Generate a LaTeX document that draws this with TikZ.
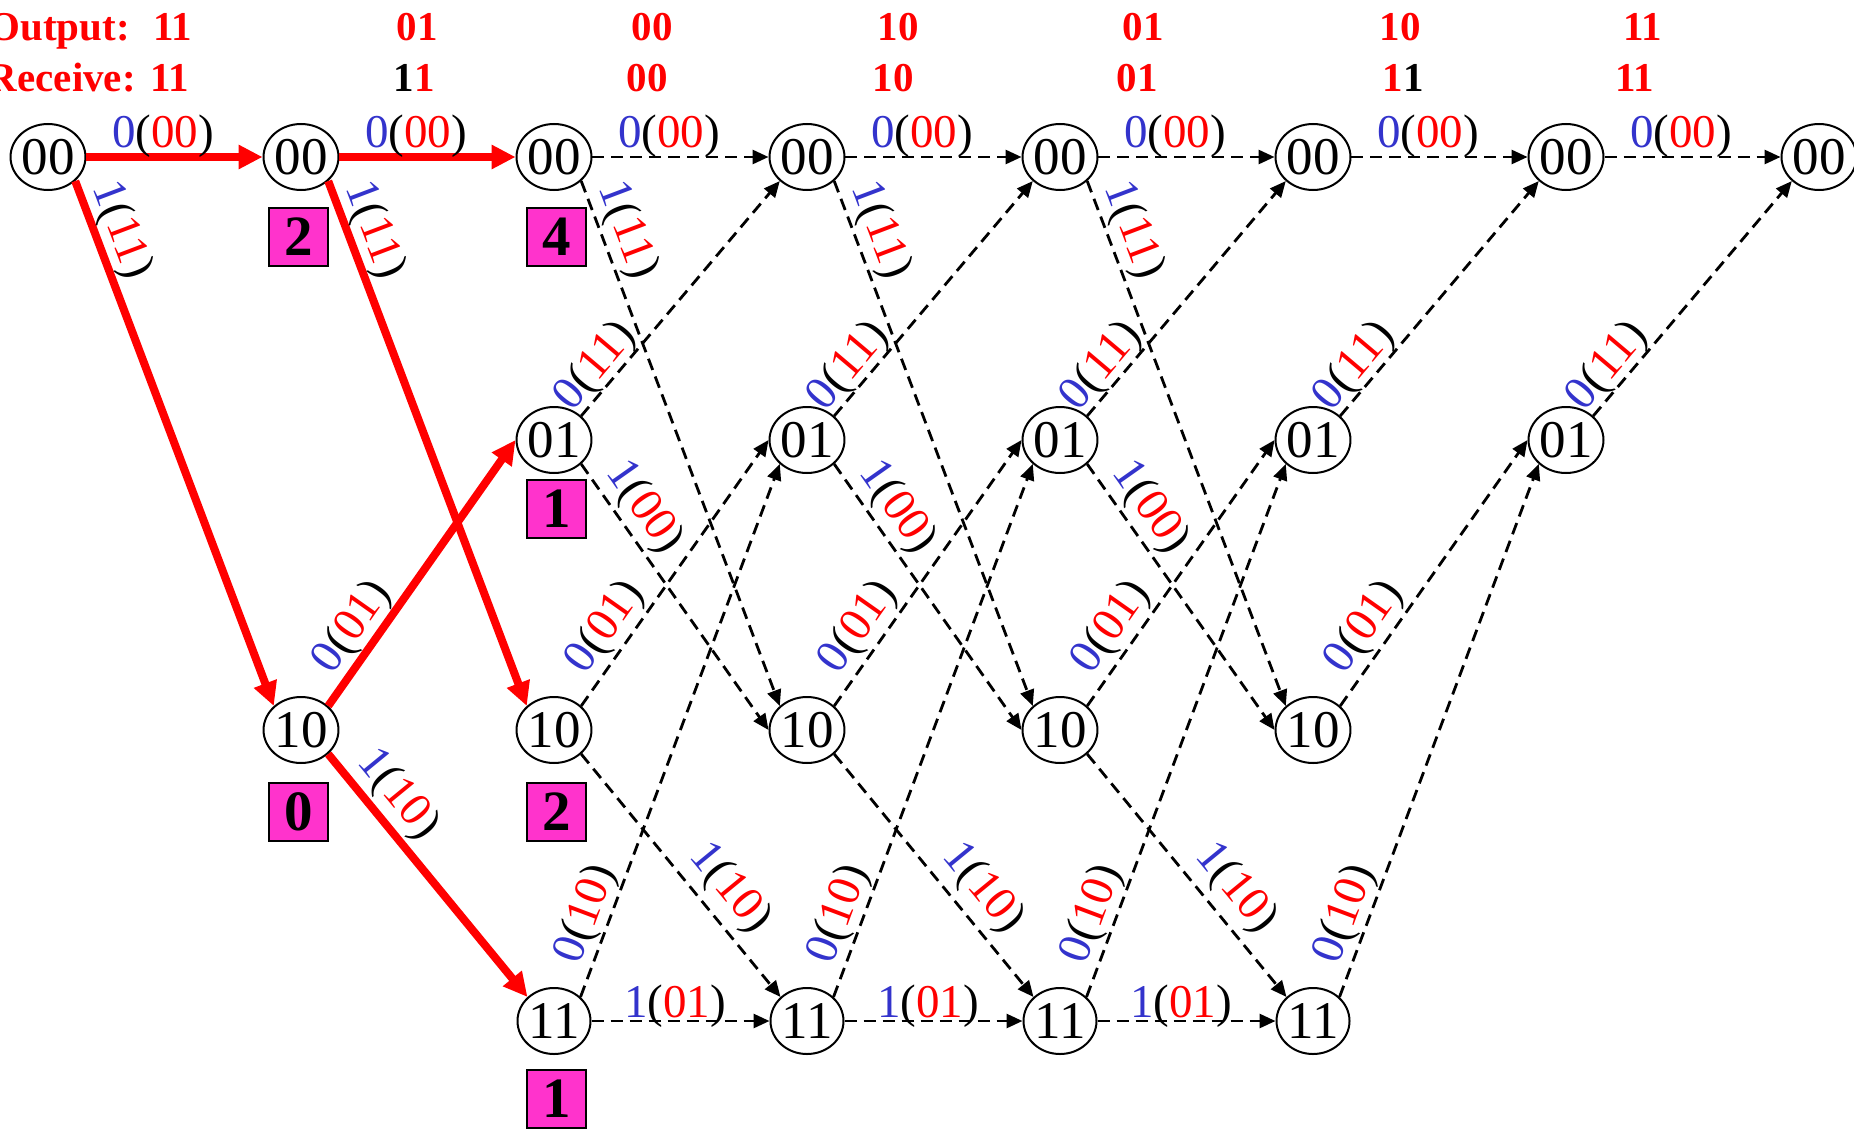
\documentclass[tikz,border=0pt]{standalone}
\usepackage{fontspec}
\setmainfont{Liberation Serif}
\usetikzlibrary{arrows.meta,shapes.geometric}
\definecolor{lblue}{RGB}{51,51,204}
\definecolor{mag}{RGB}{255,51,204}
\newcommand{\tlab}[2]{{\color{lblue}#1}({\color{red}#2})}
\begin{document}
\begin{tikzpicture}[x=1pt,y=-1pt,
  st/.style={ellipse,draw,line width=2pt,minimum width=73pt,minimum height=66pt,inner sep=0pt,font=\fontsize{53}{60}\selectfont},
  mbox/.style={draw,line width=2pt,fill=mag,minimum width=59pt,minimum height=58pt,inner sep=0pt,font=\fontsize{57}{60}\selectfont\bfseries},
  redE/.style={draw=red,line width=8pt,-{Triangle[length=24pt,width=23pt]}},
  dashE/.style={draw=black,line width=2.8pt,dash pattern=on 12pt off 7pt,-{Triangle[length=16pt,width=14pt]}},
  lbl/.style={font=\fontsize{47}{50}\selectfont,inner sep=0pt,sloped,anchor=center},
  hdr/.style={font=\fontsize{41}{45}\selectfont\bfseries,text=red,inner sep=0pt,anchor=base},
  lA/.style={lbl,pos=.435,yshift=21pt},
  lB/.style={lbl,pos=.11,yshift=25pt},
  lC/.style={lbl,pos=.24,yshift=25pt},
  lDr/.style={lbl,pos=.24,yshift=28pt},
  lD/.style={lbl,pos=.63,yshift=29.5pt},
  lE/.style={lbl,pos=.153,yshift=20.5pt},
  lF/.style={lbl,pos=.22,yshift=26pt},
  lG/.style={lbl,pos=.14,yshift=23pt},
  lH/.style={lbl,pos=.47,yshift=15pt}
]
\useasboundingbox (0,0) rectangle (1854,1129);
% header
\node[hdr,anchor=base east] (hout) at (130,41) {Output:};
\node[hdr,anchor=base east] (hrec) at (136,92) {Receive:};
\foreach \x/\v [count=\k] in {173/11,417/01,652/00,898/10,1143/01,1400/10,1643/11}
  \node[hdr] (o\k) at (\x,41) {\v};
\node[hdr] (r1) at (170,92) {11};
\node[hdr] (r2) at (414,92) {\textcolor{black}{1}1};
\node[hdr] (r3) at (647,92) {00};
\node[hdr] (r4) at (893,92) {10};
\node[hdr] (r5) at (1137,92) {01};
\node[hdr] (r6) at (1403,92) {1\textcolor{black}{1}};
\node[hdr] (r7) at (1635,92) {11};
% states
\foreach \i in {0,...,7} \node[st] (a\i) at ({48+253*\i},157) {00};
\foreach \i in {2,...,6} \node[st] (b\i) at ({48+253*\i},440) {01};
\foreach \i in {1,...,5} \node[st] (c\i) at ({48+253*\i},730) {10};
\foreach \i in {2,...,5} \node[st] (d\i) at ({48+253*\i},1021) {11};
% metric boxes
\node[mbox] (m1) at (298.5,237) {2};
\node[mbox] (m2) at (556.5,237) {4};
\node[mbox] (m3) at (556.5,509) {1};
\node[mbox] (m4) at (298.5,811.5) {0};
\node[mbox] (m5) at (556.5,811.5) {2};
\node[mbox] (m6) at (556.5,1098.5) {1};
% dashed transitions
\foreach \i [evaluate=\i as \j using int(\i+1)] in {2,3,4} {
  \draw[dashE] (a\i.east) -- node[lA]{\tlab{0}{00}} (a\j.west);
  \draw[dashE] (a\i.south east) -- node[lB]{\tlab{1}{11}} (c\j.north west);
  \draw[dashE] (b\i.north east) -- node[lE]{\tlab{0}{11}} (a\j.south west);
  \draw[dashE] (b\i.south east) -- node[lF]{\tlab{1}{00}} (c\j.west);
  \draw[dashE] (c\i.north east) -- node[lC]{\tlab{0}{01}} (b\j.west);
  \draw[dashE] (c\i.south east) -- node[lD]{\tlab{1}{10}} (d\j.north west);
  \draw[dashE] (d\i.north east) -- node[lG]{\tlab{0}{10}} (b\j.south west);
  \draw[dashE] (d\i.east) -- node[lH]{\tlab{1}{01}} (d\j.west);
}
\draw[dashE] (a5.east) -- node[lA]{\tlab{0}{00}} (a6.west);
\draw[dashE] (b5.north east) -- node[lE]{\tlab{0}{11}} (a6.south west);
\draw[dashE] (c5.north east) -- node[lC]{\tlab{0}{01}} (b6.west);
\draw[dashE] (d5.north east) -- node[lG]{\tlab{0}{10}} (b6.south west);
\draw[dashE] (a6.east) -- node[lA]{\tlab{0}{00}} (a7.west);
\draw[dashE] (b6.north east) -- node[lE]{\tlab{0}{11}} (a7.south west);
% red survivor paths
\draw[redE] (a0.east) -- node[lA]{\tlab{0}{00}} (a1.west);
\draw[redE] (a0.south east) -- node[lB]{\tlab{1}{11}} (c1.north west);
\draw[redE] (a1.east) -- node[lA]{\tlab{0}{00}} (a2.west);
\draw[redE] (a1.south east) -- node[lB]{\tlab{1}{11}} (c2.north west);
\draw[redE] (c1.north east) -- node[lC]{\tlab{0}{01}} (b2.west);
\draw[redE] (c1.south east) -- node[lDr]{\tlab{1}{10}} (d2.north west);
\end{tikzpicture}
\end{document}
